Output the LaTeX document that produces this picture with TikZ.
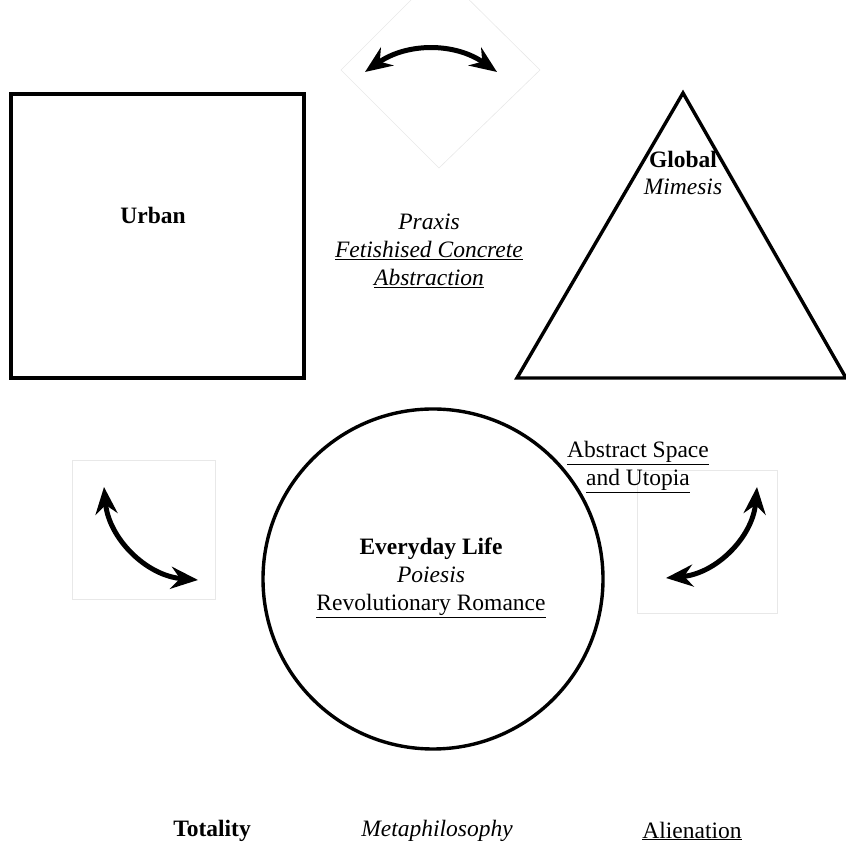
\documentclass[tikz,border=0pt]{standalone}
\usepackage{fontspec}
\setmainfont{Liberation Serif}
\usetikzlibrary{arrows.meta}
\usetikzlibrary{positioning}
\tikzset{
	x=1pt, y=1pt,
	outline/.style = {draw, line width=3.4pt},
	frame/.style = {draw=gray!18, line width=0.6pt},
	swap/.style = {line width=5pt, {Stealth[length=27pt,width=22pt,inset=9pt]}-{Stealth[length=27pt,width=22pt,inset=9pt]}}
}

\begin{document}
\begin{tikzpicture}[txt/.style={align=center, font=\fontsize{23.5}{27.8}\selectfont, inner sep=0pt}]
	\useasboundingbox (0,0) rectangle (846,845);
	% faint frames behind the arrows
	\draw [frame] (341,775) -- (440,874) -- (540,775) -- (439,677) -- cycle;
	\draw [frame] (72,246) rectangle (215,385);
	\draw [frame] (637,232) rectangle (777,375);
	% the three shapes
	\draw [outline] (11,467) rectangle (304,751);
	\draw [outline, line join=miter] (683,752) -- (846,467) -- (517,467) -- cycle;
	\draw [outline] (433,266) circle (170);
	% texts
	\node [txt] (urban) at (153,630) {\textbf{Urban}};
	\node [txt] (global) at (683,672) {\textbf{Global}\\\textit{Mimesis}};
	\node [txt] (praxis) at (429,594) {\textit{Praxis}\\\textit{\underline{Fetishised Concrete}}\\\textit{\underline{Abstraction}}};
	\node [txt] (life) at (431,267) {\textbf{Everyday Life}\\\textit{Poiesis}\\\underline{Revolutionary Romance}};
	\node [txt] (space) at (638,378) {\underline{Abstract Space}\\\underline{and Utopia}};
	\node [txt] (totality) at (212,14) {\textbf{Totality}};
	\node [txt] (meta) at (437,14) {\textit{Metaphilosophy}};
	\node [txt] (alien) at (692,14) {\underline{Alienation}};
	% arrow ends
	\coordinate (t1) at (365,773);
	\coordinate (t2) at (497,773);
	\coordinate (l1) at (104,358);
	\coordinate (l2) at (198,265);
	\coordinate (r1) at (757,358);
	\coordinate (r2) at (666,267);
	\draw [swap] (t1) to [bend left=35] (t2);
	\draw [swap] (l1) to [bend right=40] (l2);
	\draw [swap] (r1) to [bend left=40] (r2);
\end{tikzpicture}
\end{document}
